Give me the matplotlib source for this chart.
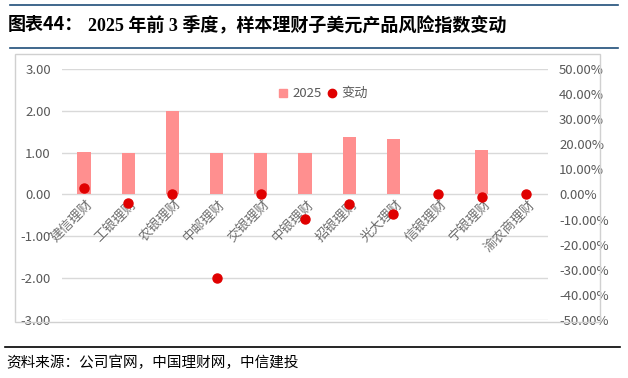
import matplotlib
matplotlib.use('agg')
from matplotlib import pyplot as plt
from matplotlib.patches import Rectangle
from matplotlib.lines import Line2D
from matplotlib.ticker import FuncFormatter

plt.rcParams['font.family'] = ['Noto Sans CJK SC', 'DejaVu Sans']

companies = ['建信理财', '工银理财', '农银理财', '中邮理财', '交银理财', '中银理财',
             '招银理财', '光大理财', '信银理财', '宁银理财', '渝农商理财']
risk_2025 = [1.02, 1.00, 2.00, 1.00, 1.00, 1.00, 1.38, 1.32, 0.0, 1.06, 0.0]
change_pct = [2.7, -3.5, 0.0, -33.3, 0.0, -9.9, -3.7, -7.9, 0.2, -1.1, 0.2]

grey = '#595959'
bar_color = '#FF8F8F'
dot_color = '#E00000'

fig = plt.figure(figsize=(6.28, 3.78), dpi=100)
W, H = 628, 378

# title and rules
fig.add_artist(Line2D([10 / W, 618 / W], [1 - 5 / H, 1 - 5 / H], color='#1F4E79', lw=1.2))
fig.add_artist(Line2D([10 / W, 618 / W], [1 - 48 / H, 1 - 48 / H], color='#1F4E79', lw=1.2))
fig.text(8 / W, 1 - 25 / H, '图表44：', fontsize=13, fontweight='bold', va='center', ha='left')
fig.text(88 / W, 1 - 25 / H, '2025 年前 3 季度，样本理财子美元产品风险指数变动',
         fontsize=13, fontweight='bold', va='center', ha='left',
         family=['Liberation Serif', 'Noto Sans CJK SC'])
fig.add_artist(Line2D([5 / W, 620 / W], [1 - 347 / H, 1 - 347 / H], color='black', lw=1.2))
fig.text(6 / W, 1 - 363 / H, '资料来源：公司官网，中国理财网，中信建投', fontsize=10.5,
         fontstyle='italic', va='center', ha='left')

# chart frame
fig.add_artist(Rectangle((15 / W, 1 - 322 / H), 585 / W, 268 / H, fill=False,
                         edgecolor='#D0D0D0', lw=1, transform=fig.transFigure))

ax = fig.add_axes([62 / W, 1 - 320 / H, 486 / W, 251 / H])
x = range(len(companies))
ax.bar(x, risk_2025, width=0.3, color=bar_color, zorder=2)
ax.set_xlim(-0.5, len(companies) - 0.5)
ax.set_ylim(-3, 3)
ax.set_yticks([3, 2, 1, 0, -1, -2, -3])
ax.yaxis.set_major_formatter(FuncFormatter(lambda v, p: f'{v:.2f}'))
ax.grid(axis='y', color='#D9D9D9', lw=1, zorder=0)
ax.set_xticks([])
for s in ax.spines.values():
    s.set_visible(False)
ax.tick_params(axis='y', length=0, labelsize=9.5, labelcolor=grey, pad=8)

for i, name in enumerate(companies):
    ax.text(i + 0.05, -0.08, name, rotation=45, ha='right', va='top',
            rotation_mode='anchor', fontsize=9.5, color='#707070', zorder=3)

ax2 = ax.twinx()
ax2.plot(list(x), change_pct, 'o', color=dot_color, ms=6.5, zorder=4)
ax2.set_ylim(-50, 50)
ax2.set_yticks(range(-50, 51, 10))
ax2.yaxis.set_major_formatter(FuncFormatter(lambda v, p: f'{v:.2f}%'))
for s in ax2.spines.values():
    s.set_visible(False)
ax2.tick_params(axis='y', length=0, labelsize=9.5, labelcolor=grey, pad=8)

handles = [Line2D([], [], marker='s', ls='', color=bar_color, ms=6),
           Line2D([], [], marker='o', ls='', color=dot_color, ms=6)]
ax2.legend(handles, ['2025', '变动'], loc='upper center', bbox_to_anchor=(0.535, 0.975),
           ncol=2, frameon=False, fontsize=9.5, labelcolor=grey,
           handletextpad=0.2, columnspacing=0.3, handlelength=1)

fig.savefig('out.png', dpi=100, facecolor='white')
